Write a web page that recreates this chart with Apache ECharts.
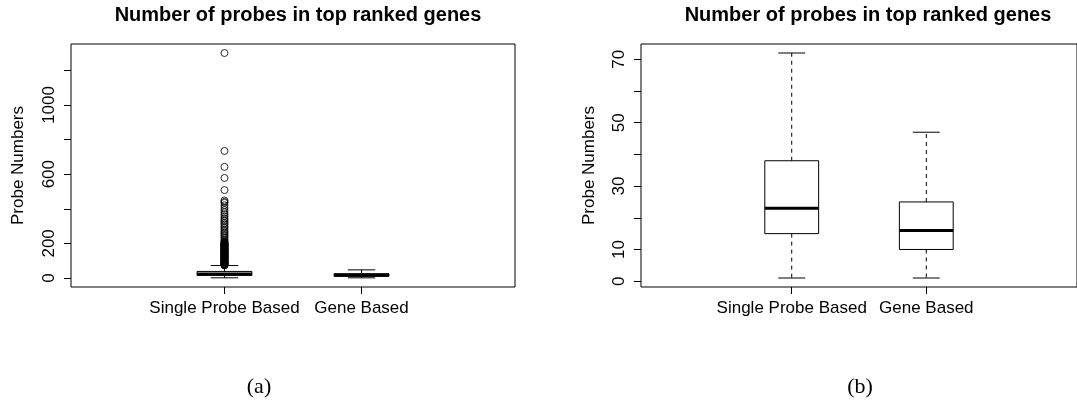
<!DOCTYPE html>
<html>
<head>
<meta charset="utf-8">
<script src="https://cdn.jsdelivr.net/npm/echarts@6/dist/echarts.min.js"></script>
<style>
  html, body { margin: 0; padding: 0; background: #fff; }
  #chart { width: 1077px; height: 406px; }
</style>
</head>
<body>
<div id="chart"></div>
<script>
// ---- data ----
const categories = ['Single Probe Based', 'Gene Based'];
const positions = [1, 2];
// [min whisker, Q1, median, Q3, max whisker]
const singleProbeStats = [1, 15, 23, 38, 72];
const geneBasedStats = [1, 10, 16, 25, 47];
// outliers of the single-probe group (panel a)
const singleProbeOutliers = [
  1300, 734, 642, 578, 508, 448, 440, 434, 420, 405, 392, 380, 368, 357, 345,
  336, 328, 318, 310, 299, 290, 280, 270, 262, 255, 248, 240, 232, 222, 215,
  210, 206, 203, 201, 199, 197, 195, 193, 191, 189, 187, 185, 183, 181, 179,
  177, 175, 173, 171, 169, 167, 165, 163, 161, 159, 157, 155, 153, 151, 149,
  147, 145, 143, 141, 139, 137, 135, 133, 131, 129, 127, 125, 123, 121, 119,
  117, 115, 113, 111, 109, 107, 105, 103, 101, 99, 97, 95, 93, 91, 89, 87,
  85, 83, 81, 79, 77, 75, 74, 73
];
const leftYTicks = [0, 200, 400, 600, 800, 1000, 1200];
const leftYLabels = [0, 200, 600, 1000];
const rightYTicks = [0, 10, 20, 30, 40, 50, 60, 70];
const rightYLabels = [0, 10, 30, 50, 70];
const titleText = 'Number of probes in top ranked genes';
const yName = 'Probe Numbers';
const panelLabels = ['(a)', '(b)'];

// ---- chart ----
const FONT = '"Liberation Sans", Arial, Helvetica, sans-serif';
const chart = echarts.init(document.getElementById('chart'), null, { renderer: 'canvas' });

function renderBox(params, api) {
  const x = api.value(0);
  const pMin = api.coord([x, api.value(1)]);
  const pQ1 = api.coord([x, api.value(2)]);
  const pMed = api.coord([x, api.value(3)]);
  const pQ3 = api.coord([x, api.value(4)]);
  const pMax = api.coord([x, api.value(5)]);
  const cx = pMed[0];
  const halfW = api.size([0.2, 0])[0];
  const capW = halfW / 2;
  const dashStyle = { stroke: '#000', lineWidth: 1, lineDash: [4, 4], fill: null };
  const solid = { stroke: '#000', lineWidth: 1, fill: null };
  return {
    type: 'group',
    children: [
      { type: 'line', shape: { x1: cx, y1: pQ3[1], x2: cx, y2: pMax[1] }, style: dashStyle },
      { type: 'line', shape: { x1: cx, y1: pQ1[1], x2: cx, y2: pMin[1] }, style: dashStyle },
      { type: 'line', shape: { x1: cx - capW, y1: pMax[1], x2: cx + capW, y2: pMax[1] }, style: solid },
      { type: 'line', shape: { x1: cx - capW, y1: pMin[1], x2: cx + capW, y2: pMin[1] }, style: solid },
      { type: 'rect', shape: { x: cx - halfW, y: pQ3[1], width: 2 * halfW, height: pQ1[1] - pQ3[1] },
        style: { fill: '#fff', stroke: '#000', lineWidth: 1 } },
      { type: 'line', shape: { x1: cx - halfW, y1: pMed[1], x2: cx + halfW, y2: pMed[1] },
        style: { stroke: '#000', lineWidth: 3 } }
    ]
  };
}

const boxData = [
  [positions[0]].concat(singleProbeStats),
  [positions[1]].concat(geneBasedStats)
];

function xAxisCfg(gridIndex) {
  return {
    type: 'value', gridIndex: gridIndex, min: -0.12, max: 3.12, position: 'bottom',
    axisLine: { show: false, onZero: false },
    splitLine: { show: false },
    axisTick: { show: true, length: 7, inside: false, customValues: positions,
      lineStyle: { color: '#000', width: 1 } },
    axisLabel: { show: true, customValues: positions, margin: 13,
      color: '#000', fontFamily: FONT, fontSize: 17,
      formatter: function (v) { const i = positions.indexOf(v); return i >= 0 ? categories[i] : ''; } }
  };
}

function yAxisCfg(gridIndex, min, max, ticks, labels, nameGap) {
  return {
    type: 'value', gridIndex: gridIndex, min: min, max: max, position: 'left',
    name: yName, nameLocation: 'middle', nameGap: nameGap, nameRotate: 90,
    nameTextStyle: { color: '#000', fontFamily: FONT, fontSize: 17 },
    axisLine: { show: false, onZero: false },
    splitLine: { show: false },
    axisTick: { show: true, length: 7, inside: false, customValues: ticks,
      lineStyle: { color: '#000', width: 1 } },
    axisLabel: { show: true, customValues: labels, rotate: 90, margin: 13,
      color: '#000', fontFamily: FONT, fontSize: 17,
      formatter: function (v) { return String(v); } }
  };
}

const option = {
  animation: false,
  backgroundColor: '#fff',
  title: [
    { text: titleText, left: 293, top: 0, textAlign: 'center',
      textStyle: { fontFamily: FONT, fontSize: 20, fontWeight: 'bold', color: '#000' } },
    { text: titleText, left: 863, top: 0, textAlign: 'center',
      textStyle: { fontFamily: FONT, fontSize: 20, fontWeight: 'bold', color: '#000' } },
    { text: panelLabels[0], left: 254, top: 371, textAlign: 'center',
      textStyle: { fontFamily: '"Liberation Serif", "DejaVu Serif", serif', fontSize: 22, fontWeight: 'normal', color: '#000' } },
    { text: panelLabels[1], left: 855, top: 371, textAlign: 'center',
      textStyle: { fontFamily: '"Liberation Serif", "DejaVu Serif", serif', fontSize: 22, fontWeight: 'normal', color: '#000' } }
  ],
  grid: [
    { left: 71, top: 44, width: 444, height: 243, show: true, borderColor: '#000', borderWidth: 1, backgroundColor: 'transparent' },
    { left: 641, top: 44, width: 444, height: 243, show: true, borderColor: '#000', borderWidth: 1, backgroundColor: 'transparent' }
  ],
  xAxis: [xAxisCfg(0), xAxisCfg(1)],
  yAxis: [
    yAxisCfg(0, -52, 1352, leftYTicks, leftYLabels, 44),
    yAxisCfg(1, -1.84, 74.84, rightYTicks, rightYLabels, 43)
  ],
  series: [
    { type: 'custom', xAxisIndex: 0, yAxisIndex: 0, renderItem: renderBox, data: boxData,
      encode: { x: 0, y: [1, 2, 3, 4, 5] }, z: 2 },
    { type: 'scatter', xAxisIndex: 0, yAxisIndex: 0, symbol: 'circle', symbolSize: 7,
      data: singleProbeOutliers.map(function (v) { return [positions[0], v]; }),
      itemStyle: { color: 'rgba(0,0,0,0)', borderColor: '#000', borderWidth: 1 }, z: 3 },
    { type: 'custom', xAxisIndex: 1, yAxisIndex: 1, renderItem: renderBox, data: boxData,
      encode: { x: 0, y: [1, 2, 3, 4, 5] }, z: 2 }
  ]
};
chart.setOption(option);
</script>
</body>
</html>
